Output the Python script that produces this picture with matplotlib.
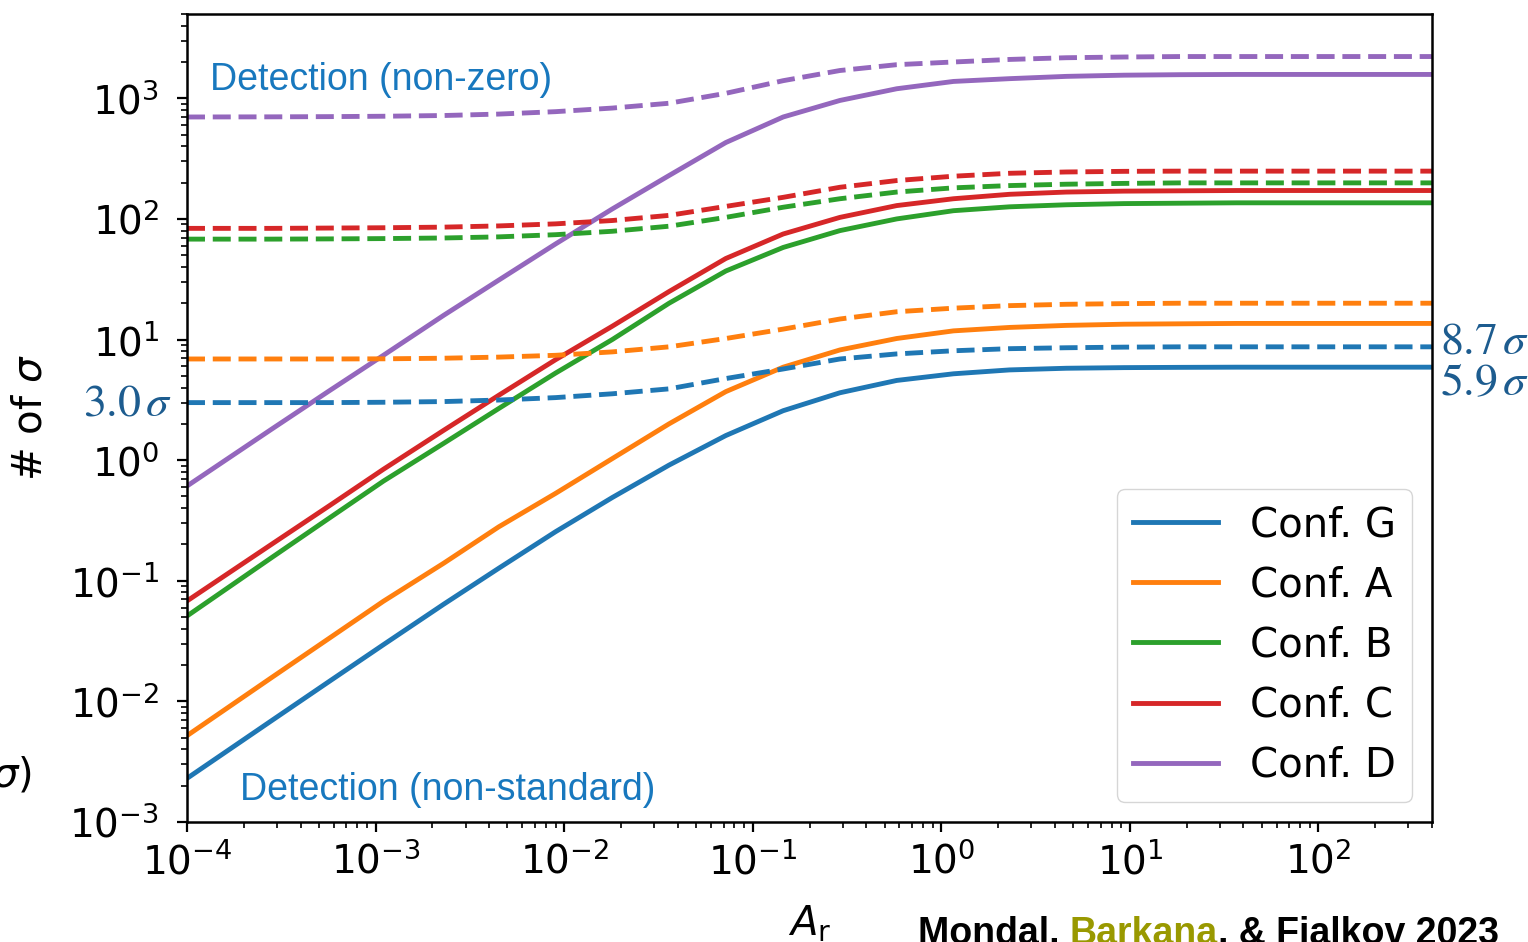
import numpy as np
import matplotlib
matplotlib.use("Agg")
import matplotlib.pyplot as plt
from matplotlib.ticker import LogLocator, NullFormatter

plt.rcParams["font.family"] = ["DejaVu Sans"]

# A_r sampling points
a_r = [1e-4, 2.8e-4, 5.7e-4, 1.1e-3, 2.3e-3, 4.5e-3, 9e-3, 0.018, 0.036, 0.072,
       0.145, 0.29, 0.58, 1.16, 2.3, 4.6, 9.3, 18.5, 37, 74, 150, 400]

# number of sigma, non-standard detection (solid)
sig_G = [0.0023, 0.0069, 0.0147, 0.0295, 0.064, 0.127, 0.255, 0.49, 0.91, 1.6,
         2.57, 3.62, 4.58, 5.2, 5.6, 5.78, 5.85, 5.88, 5.9, 5.9, 5.9, 5.9]
sig_A = [0.0052, 0.0157, 0.0335, 0.0676, 0.14, 0.28, 0.53, 1.03, 2.0, 3.7,
         5.9, 8.2, 10.2, 11.8, 12.6, 13.1, 13.4, 13.5, 13.6, 13.6, 13.6, 13.6]
sig_B = [0.051, 0.155, 0.332, 0.67, 1.38, 2.68, 5.27, 10.0, 20, 37,
         58, 80, 100, 117, 126, 131, 134, 135, 136, 136, 136, 136]
sig_C = [0.068, 0.20, 0.42, 0.84, 1.77, 3.45, 6.8, 12.9, 25, 47,
         75, 103, 129, 147, 160, 167, 170, 171, 172, 172, 172, 172]
sig_D = [0.61, 1.80, 3.77, 7.4, 15.9, 31.1, 62, 121, 229, 430,
         700, 960, 1200, 1380, 1455, 1520, 1555, 1570, 1577, 1577, 1577, 1577]

# number of sigma, non-zero detection (dashed)
nz_G = [3.0, 3.0, 3.0, 3.02, 3.06, 3.15, 3.3, 3.55, 3.9, 4.75,
        5.7, 6.9, 7.6, 8.07, 8.4, 8.55, 8.65, 8.7, 8.7, 8.7, 8.7, 8.7]
nz_A = [6.9, 6.9, 6.9, 6.92, 7.0, 7.15, 7.4, 7.9, 8.7, 10.2,
        12.2, 14.8, 17.0, 18.2, 19.1, 19.6, 19.85, 20.0, 20.0, 20.0, 20.0, 20.0]
nz_B = [68, 68, 68.3, 68.7, 69.5, 71, 74, 79, 87, 103,
        125, 147, 167, 181, 189, 194, 197, 199, 199, 199, 199, 199]
nz_C = [83.5, 83.5, 84, 84.5, 85.5, 87.5, 91, 97, 107, 127,
        151, 183, 208, 226, 239, 245, 248, 249, 249, 249, 249, 249]
nz_D = [700, 702, 705, 710, 720, 740, 775, 830, 910, 1100,
        1400, 1700, 1900, 2000, 2100, 2170, 2200, 2220, 2220, 2220, 2220, 2220]

labels = ["Conf. G", "Conf. A", "Conf. B", "Conf. C", "Conf. D"]
colors = ["tab:blue", "tab:orange", "tab:green", "tab:red", "tab:purple"]
solid = [sig_G, sig_A, sig_B, sig_C, sig_D]
dashed = [nz_G, nz_A, nz_B, nz_C, nz_D]

W, H = 1528, 942
fig = plt.figure(figsize=(W / 100, H / 100), dpi=100)
ax = fig.add_axes([187 / W, 1 - 822 / H, (1432 - 187) / W, (822 - 14) / H])

for y, c, lab in zip(solid, colors, labels):
    ax.plot(a_r, y, color=c, lw=3.5, label=lab)
for y, c in zip(dashed, colors):
    ax.plot(a_r, y, color=c, lw=3.5, ls="--")

ax.set_xscale("log")
ax.set_yscale("log")
ax.set_xlim(1e-4, 400)
ax.set_ylim(1e-3, 5e3)
ax.yaxis.set_major_locator(LogLocator(base=10, numticks=20))
ax.yaxis.set_minor_locator(LogLocator(base=10, subs=np.arange(2, 10), numticks=100))
ax.yaxis.set_minor_formatter(NullFormatter())
ax.xaxis.set_minor_locator(LogLocator(base=10, subs=np.arange(2, 10), numticks=100))
ax.xaxis.set_minor_formatter(NullFormatter())

ax.tick_params(which="major", length=7.5, width=1.6, labelsize=28)
ax.tick_params(which="minor", length=4.5, width=1.2)
ax.tick_params(axis="y", which="major", pad=12.5)
ax.tick_params(axis="x", which="major", pad=7)
for s in ax.spines.values():
    s.set_linewidth(1.8)

ax.set_xlabel(r"$A_{\rm r}$", fontsize=29, labelpad=16)
ax.set_ylabel(r"# of $\sigma$", fontsize=29, labelpad=14)

ax.legend(loc="lower right", fontsize=29, handlelength=2.1, labelspacing=0.5,
          borderaxespad=0.5)

txt_blue = "#1878be"
fig.text(210 / W, 1 - 80 / H, "Detection (non-zero)", color=txt_blue,
         fontsize=27, family="Liberation Sans", va="center", ha="left")
fig.text(240 / W, 1 - 790 / H, "Detection (non-standard)", color=txt_blue,
         fontsize=27, family="Liberation Sans", va="center", ha="left")

sig_col = "#1d5c8f"
fig.text(172 / W, 1 - 403 / H, r"$3.0\,\sigma$", color=sig_col, fontsize=33,
         math_fontfamily="stix", ha="right", va="center")
fig.text(1440 / W, 1 - 341 / H, r"$8.7\,\sigma$", color=sig_col, fontsize=33,
         math_fontfamily="stix", ha="left", va="center")
fig.text(1440 / W, 1 - 383 / H, r"$5.9\,\sigma$", color=sig_col, fontsize=33,
         math_fontfamily="stix", ha="left", va="center")

# tail of a neighbouring panel's axis label
fig.text(32 / W, 1 - 775 / H, r"$\sigma$)", fontsize=29, ha="right", va="center")

# author credit along the bottom edge
t1 = fig.text(918 / W, -2 / H, "Mondal, ", fontsize=27, weight="bold",
              family="Liberation Sans", va="baseline", ha="left")
t2 = fig.text(0, 0, "Barkana", fontsize=27, weight="bold", family="Liberation Sans",
              color="#999900", va="baseline", ha="left")
t3 = fig.text(0, 0, ", & Fialkov 2023", fontsize=27, weight="bold",
              family="Liberation Sans", va="baseline", ha="left")
fig.canvas.draw()
r = fig.canvas.get_renderer()
bb1 = t1.get_window_extent(r)
t2.set_position((bb1.x1 / W, -2 / H))
fig.canvas.draw()
bb2 = t2.get_window_extent(r)
t3.set_position((bb2.x1 / W, -2 / H))

fig.savefig("out.png", dpi=100)
